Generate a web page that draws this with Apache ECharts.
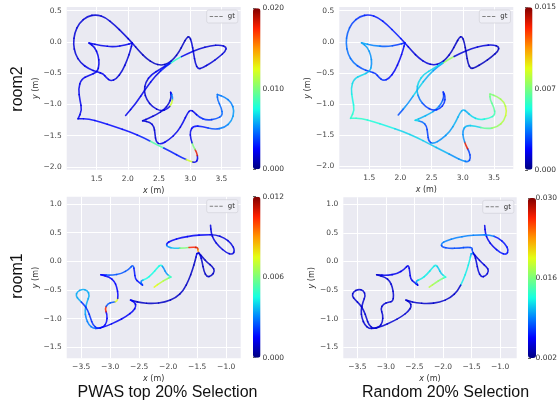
<!DOCTYPE html>
<html><head><meta charset="utf-8">
<script src="https://cdn.jsdelivr.net/npm/echarts@6/dist/echarts.min.js"></script>
<style>html,body{margin:0;padding:0;background:#fff}#c{width:560px;height:404px}</style>
</head><body><div id="c"></div>
<script>
// ---------------- data ----------------
const room2X = [1.965,2.126,2.286,2.447,2.607,2.767,2.955,3.142,3.329,3.489,
 3.580,3.570,3.463,3.329,3.195,3.126,3.083,3.056,3.024,2.987,
 2.944,2.890,2.821,2.741,2.644,2.537,2.420,2.302,2.179,2.072,
 1.939,1.789,1.644,1.500,1.350,1.222,1.147,1.126,1.158,1.243,
 1.377,1.511,1.607,1.655,1.725,1.816,1.912,1.992,2.045,2.072,2.072,
 1.965,1.778,1.564,1.377,1.377,1.468,1.527,1.543,1.511,1.377,
 1.254,1.206,1.233,1.265,1.201,1.201,1.377,1.564,1.778,2.045,
 2.259,2.463,2.687,2.874,2.997,3.088,3.126,3.104,3.051,3.008,
 2.997,3.051,3.195,3.382,3.553,3.666,3.709,3.660,3.553,3.436,3.436,
 3.436,3.500,3.521,3.425,3.265,3.142,3.061,3.008,2.955,2.890,
 2.794,2.660,2.527,2.452,2.436,2.420,2.356,2.238,2.238,2.340,
 2.463,2.580,2.660,2.698,2.687,2.687,2.719,2.709,2.634,2.527,
 2.398,2.302,2.259,2.286,2.377,2.527,2.676];
const room2Y = [-1.176,-0.989,-0.749,-0.535,-0.390,-0.283,-0.187,-0.107,-0.059,-0.048,
 -0.080,-0.144,-0.241,-0.337,-0.417,-0.433,-0.348,-0.187,0.000,0.091,
 0.070,-0.027,-0.160,-0.267,-0.348,-0.374,-0.348,-0.267,-0.144,-0.016,
 0.123,0.273,0.390,0.439,0.412,0.305,0.144,-0.027,-0.198,-0.337,
 -0.433,-0.481,-0.508,-0.572,-0.626,-0.594,-0.465,-0.283,-0.123,-0.016,-0.016,
 -0.048,-0.080,-0.059,-0.016,-0.016,-0.080,-0.214,-0.358,-0.481,-0.535,
 -0.594,-0.749,-0.936,-1.096,-1.230,-1.230,-1.230,-1.283,-1.353,-1.444,
 -1.535,-1.642,-1.754,-1.856,-1.909,-1.936,-1.872,-1.765,-1.674,-1.551,
 -1.428,-1.342,-1.353,-1.401,-1.374,-1.267,-1.107,-0.963,-0.882,-0.840,-0.840,
 -0.925,-1.053,-1.176,-1.230,-1.257,-1.203,-1.123,-1.086,-1.139,-1.283,
 -1.444,-1.567,-1.642,-1.604,-1.471,-1.353,-1.283,-1.262,-1.262,-1.219,
 -1.160,-1.086,-0.989,-0.882,-0.807,-0.807,-0.872,-0.989,-1.075,-1.107,
 -1.043,-0.925,-0.786,-0.642,-0.519,-0.433,-0.337];
const room2ErrPWAS = [.0021,.0021,.0021,.0021,.003,.008,.0021,.0017,.0017,.0017,
 .0017,.0017,.0017,.0017,.0017,.0017,.0017,.0017,.0017,.0013,
 .0013,.0013,.0013,.0013,.0013,.0013,.0013,.0013,.0013,.0017,
 .0017,.0017,.0017,.0017,.0017,.0017,.0017,.0017,.0017,.0017,
 .0021,.0021,.0021,.0021,.0021,.0017,.0017,.0017,.0017,.0021,.0021,
 .0021,.0021,.0021,.0021,.0021,.0021,.0021,.0021,.0021,.0021,
 .0021,.0021,.0021,.0021,.0021,.0021,.0026,.0026,.0026,.0026,
 .003,.009,.003,.003,.012,.0021,.0021,.018,.010,.0021,
 .0021,.0026,.003,.004,.005,.0055,.0055,.005,.005,.0048,.0048,
 .0045,.0045,.0045,.004,.0035,.0032,.0021,.0021,.0021,.0021,
 .0021,.0021,.0021,.0017,.0017,.0017,.0017,.0017,.0017,.0017,
 .0017,.0017,.0017,.0017,.0021,.0021,.005,.012,.0021,.0017,
 .0017,.0017,.0017,.0017,.0021,.0021,.003];
const room2ErrRandom = [.003,.004,.005,.0045,.004,.008,.0013,.0013,.0013,.0013,
 .0009,.0009,.0009,.0009,.0009,.0009,.0009,.0009,.0009,.001,
 .001,.001,.001,.001,.0013,.0013,.0013,.0013,.0013,.0017,
 .0022,.0022,.0022,.0022,.0025,.0028,.0032,.0035,.0035,.0035,
 .003,.0027,.0025,.0025,.0025,.0021,.0017,.0017,.0017,.0022,.0022,
 .0027,.0032,.0038,.0043,.0043,.0042,.004,.004,.0045,.005,
 .005,.0052,.0055,.0058,.006,.006,.006,.0058,.0055,.005,
 .005,.0048,.0045,.004,.004,.0035,.0028,.0028,.0135,.004,
 .004,.0045,.005,.007,.008,.0085,.009,.0085,.008,.0075,.0075,
 .007,.007,.0065,.006,.0055,.005,.0045,.0045,.0045,.0045,
 .0042,.004,.004,.0028,.0028,.0028,.0035,.005,.005,.0045,
 .0045,.004,.0035,.0028,.0025,.0025,.0025,.0025,.0025,.0025,
 .0028,.0035,.0045,.005,.005,.005,.005];

const room1X = [-1.270,-1.259,-1.218,-1.126,-1.000,-0.891,-0.851,-0.908,-1.034,-1.184,
 -1.368,-1.569,-1.770,-1.943,-2.034,-2.017,-1.885,-1.713,-1.569,-1.483,
 -1.494,-1.448,-1.414,-1.385,-1.333,-1.253,-1.195,-1.236,-1.322,-1.402,
 -1.471,-1.506,-1.506,-1.534,-1.580,-1.644,-1.736,-1.868,-2.057,-2.276,-2.471,
 -2.598,-2.649,-2.649,-2.575,-2.552,-2.603,-2.718,-2.891,-3.063,-3.207,-3.293,
 -3.368,-3.420,-3.437,-3.402,-3.356,-3.391,-3.483,-3.569,-3.592,-3.540,
 -3.454,-3.385,-3.339,-3.299,-3.218,-3.121,-3.057,-3.052,-3.092,-3.046,
 -2.948,-2.879,-2.862,-2.885,-2.931,-3.011,-3.161,-3.161,-2.977,-2.805,-2.672,
 -2.603,-2.580,-2.569,-2.506,-2.443,-2.443,-2.483,-2.379,-2.276,-2.190,-2.126,
 -2.075,-2.034,-1.954,-1.954,-2.040,-2.126,-2.241];
const room1Y = [0.628,0.494,0.378,0.262,0.151,0.116,0.192,0.308,0.413,0.465,
 0.465,0.448,0.413,0.366,0.308,0.250,0.227,0.233,0.250,0.238,
 0.180,0.122,-0.012,-0.169,-0.273,-0.256,-0.169,-0.093,-0.023,0.064,
 0.145,0.134,0.134,0.017,-0.145,-0.320,-0.506,-0.634,-0.715,-0.738,-0.721,
 -0.692,-0.674,-0.674,-0.715,-0.785,-0.866,-0.959,-1.052,-1.128,-1.169,-1.169,
 -1.110,-0.988,-0.855,-0.709,-0.593,-0.506,-0.483,-0.529,-0.599,-0.669,
 -0.750,-0.855,-0.988,-1.110,-1.174,-1.151,-1.064,-0.924,-0.831,-0.738,
 -0.709,-0.698,-0.593,-0.448,-0.343,-0.273,-0.233,-0.233,-0.244,-0.215,-0.134,
 -0.052,-0.186,-0.308,-0.360,-0.413,-0.413,-0.343,-0.308,-0.221,-0.116,-0.052,
 -0.122,-0.215,-0.273,-0.273,-0.314,-0.366,-0.448];
const room1ErrPWAS = [.0011,.0011,.0011,.0011,.0011,.0011,.0011,.0011,.0011,.0011,
 .0014,.0014,.0014,.0014,.0014,.0032,.0038,.006,.0105,.011,
 .009,.0015,.0008,.0008,.0008,.0008,.0008,.0008,.0008,.0008,
 .0008,.0012,.0012,.0008,.0008,.0008,.0008,.0008,.0008,.0008,.0008,
 .0008,.0014,.0014,.0014,.0014,.0014,.0014,.0014,.0014,.0014,.0028,
 .003,.003,.0035,.0035,.0035,.0035,.0035,.0035,.0035,.0035,
 .002,.002,.002,.002,.002,.0015,.0015,.0015,.0105,.0025,
 .0025,.0075,.0015,.0015,.0015,.0015,.0015,.0015,.0025,.0025,.0025,
 .0025,.0017,.0017,.0017,.002,.002,.003,.0045,.0045,.0045,.0045,
 .0032,.0032,.005,.005,.0065,.007,.0075];
const room1ErrRandom = [.005,.005,.005,.005,.006,.006,.006,.006,.006,.009,
 .009,.009,.009,.009,.009,.0075,.0075,.0075,.0075,.0075,
 .0075,.0045,.0045,.0045,.0045,.0045,.0045,.0045,.0045,.0045,
 .0045,.010,.010,.012,.012,.012,.004,.004,.004,.004,.004,
 .004,.0042,.0042,.0042,.0042,.0042,.0042,.0042,.0042,.0042,.0042,
 .0042,.0042,.0042,.0042,.0042,.0042,.0042,.0042,.0042,.0042,
 .0042,.0042,.0042,.0042,.0042,.0042,.0042,.0042,.0042,.0042,
 .0042,.0042,.0042,.0042,.0042,.0042,.0042,.0042,.005,.005,.005,
 .005,.005,.005,.005,.005,.005,.010,.012,.012,.012,.012,
 .011,.011,.013,.013,.016,.017,.018];

// colour-bar ranges and tick values
const cbRange = [[0, 0.020], [0, 0.015], [0, 0.012], [0.002, 0.030]];
const cbTicks = [[0, 0.010, 0.020], [0, 0.0075, 0.015], [0, 0.006, 0.012], [0.002, 0.016, 0.030]];
const rowTitles = ['room2', 'room1'];
const colTitles = ['PWAS top 20% Selection', 'Random 20% Selection'];

// ---------------- layout / style ----------------
const JET = ['#000080','#0000ff','#0080ff','#15ffe3','#7bff7b','#e3ff15','#ff9700','#ff2100','#800000'];
const panels = [
  {xs: room2X, ys: room2Y, err: room2ErrPWAS,   grid:{left:66.7, top:7, width:174, height:162.7}, xr:[1.02,3.81], yr:[-2.045,0.56], cb:{left:253, top:8.3, width:7.5, height:161}},
  {xs: room2X, ys: room2Y, err: room2ErrRandom, grid:{left:339.3, top:7, width:174, height:162}, xr:[1.02,3.81], yr:[-2.045,0.56], cb:{left:525, top:7.3, width:7.5, height:162.5}},
  {xs: room1X, ys: room1Y, err: room1ErrPWAS,   grid:{left:66.7, top:196.7, width:174, height:161.6}, xr:[-3.75,-0.75], yr:[-1.69,1.127], cb:{left:253, top:196.7, width:7.5, height:161}},
  {xs: room1X, ys: room1Y, err: room1ErrRandom, grid:{left:343.3, top:197.3, width:173.4, height:161}, xr:[-3.745,-0.71], yr:[-1.69,1.12], cb:{left:528, top:198, width:8, height:160}}
];

function segments(xs, ys, errs) {
  const out = [];
  const n = xs.length;
  for (let i = 0; i < n; i++) {
    const a = Math.max(0, i - 1), b = Math.min(n - 1, i + 1);
    out.push([xs[a], ys[a], xs[i], ys[i], xs[b], ys[b], errs[i]]);
  }
  return out;
}
function renderSeg(params, api) {
  const p0 = api.coord([api.value(0), api.value(1)]);
  const p1 = api.coord([api.value(2), api.value(3)]);
  const p2 = api.coord([api.value(4), api.value(5)]);
  return {
    type: 'bezierCurve', silent: true,
    shape: {x1:(p0[0]+p1[0])/2, y1:(p0[1]+p1[1])/2, cpx1:p1[0], cpy1:p1[1], x2:(p1[0]+p2[0])/2, y2:(p1[1]+p2[1])/2},
    style: {stroke: api.visual('color'), lineWidth: 1.6, fill: null, lineCap: 'round', opacity: 0.85}
  };
}
const minus = s => s.replace('-', '\u2212');
const tickFont = {fontFamily: 'DejaVu Sans', fontSize: 7.5, color: '#444'};
const nameStyle = {fontFamily: 'DejaVu Sans', fontSize: 8, color: '#333', rich: {i: {fontFamily: 'DejaVu Sans', fontSize: 8, fontStyle: 'italic', color: '#333'}}};

const grid = [], xAxis = [], yAxis = [], series = [], visualMap = [], legend = [];
panels.forEach((p, i) => {
  grid.push(Object.assign({show: true, backgroundColor: '#eaeaf2', borderWidth: 0}, p.grid));
  xAxis.push({type: 'value', gridIndex: i, min: p.xr[0], max: p.xr[1],
    axisLine: {show: false}, axisTick: {show: false},
    splitLine: {show: true, showMinLine: false, showMaxLine: false, lineStyle: {color: '#fff', width: 1}},
    axisLabel: Object.assign({margin: 5, showMinLabel: false, showMaxLabel: false, formatter: v => minus(v.toFixed(1))}, tickFont),
    name: '{i|x} (m)', nameLocation: 'middle', nameGap: 17, nameTextStyle: nameStyle});
  yAxis.push({type: 'value', gridIndex: i, min: p.yr[0], max: p.yr[1],
    axisLine: {show: false}, axisTick: {show: false},
    splitLine: {show: true, showMinLine: false, showMaxLine: false, lineStyle: {color: '#fff', width: 1}},
    axisLabel: Object.assign({margin: 5, showMinLabel: false, showMaxLabel: false, formatter: v => minus(v.toFixed(1))}, tickFont),
    name: '{i|y} (m)', nameLocation: 'middle', nameGap: 19, nameTextStyle: nameStyle});
  series.push({type: 'custom', xAxisIndex: i, yAxisIndex: i, clip: true, z: 3,
    encode: {x: [0, 2, 4], y: [1, 3, 5]},
    data: segments(p.xs, p.ys, p.err), renderItem: renderSeg});
  visualMap.push({type: 'continuous', seriesIndex: i, dimension: 6,
    min: cbRange[i][0], max: cbRange[i][1], inRange: {color: JET},
    left: p.cb.left, top: p.cb.top, itemWidth: p.cb.width, itemHeight: p.cb.height,
    padding: 0, calculable: false, hoverLink: false, orient: 'vertical', text: null, showLabel: false});
  legend.push({data: ['gt'], left: p.grid.left + p.grid.width - 34, top: p.grid.top + 3,
    icon: 'path://M0,0 L3.5,0 L3.5,1 L0,1 Z M5,0 L8.5,0 L8.5,1 L5,1 Z M10,0 L13.5,0 L13.5,1 L10,1 Z',
    itemWidth: 13, itemHeight: 1.2, itemGap: 4, padding: [3, 3, 3, 3], selectedMode: false,
    backgroundColor: 'rgba(240,240,246,0.9)', borderColor: '#d4d4dc', borderWidth: 0.8, borderRadius: 2,
    itemStyle: {color: '#808080'},
    textStyle: {fontFamily: 'DejaVu Sans', fontSize: 7, color: '#333'}});
});
// colour-bar axes
panels.forEach((p, i) => {
  const gi = 4 + i;
  grid.push({left: p.cb.left, top: p.cb.top, width: p.cb.width, height: p.cb.height, show: false});
  xAxis.push({type: 'value', gridIndex: gi, show: false, min: 0, max: 1});
  yAxis.push({type: 'value', gridIndex: gi, position: 'right', min: cbRange[i][0], max: cbRange[i][1],
    axisLine: {show: false}, splitLine: {show: false},
    axisTick: {show: true, length: 3, customValues: cbTicks[i], lineStyle: {color: '#333', width: 0.8}},
    axisLabel: Object.assign({margin: 2, customValues: cbTicks[i], formatter: v => v.toFixed(3)}, tickFont, {color: '#333'})});
});
series.push({type: 'line', name: 'gt', xAxisIndex: 0, yAxisIndex: 0, data: [], symbol: 'none',
  lineStyle: {type: 'dashed', color: '#808080', width: 1}, itemStyle: {color: '#808080'}});

const titleFont = '16px "Liberation Sans", Arial, sans-serif';
const graphic = [
  {type: 'text', x: 18, y: 89, rotation: Math.PI / 2, style: {text: rowTitles[0], font: titleFont, fill: '#111', align: 'center', verticalAlign: 'middle'}},
  {type: 'text', x: 18, y: 276, rotation: Math.PI / 2, style: {text: rowTitles[1], font: titleFont, fill: '#111', align: 'center', verticalAlign: 'middle'}},
  {type: 'text', x: 167.5, y: 393, style: {text: colTitles[0], font: titleFont, fill: '#111', align: 'center', verticalAlign: 'middle'}},
  {type: 'text', x: 445.5, y: 393, style: {text: colTitles[1], font: titleFont, fill: '#111', align: 'center', verticalAlign: 'middle'}}
];

const chart = echarts.init(document.getElementById('c'), null, {renderer: 'canvas'});
chart.setOption({animation: false, backgroundColor: '#fff', grid, xAxis, yAxis, series, visualMap, legend, graphic});
</script></body></html>
